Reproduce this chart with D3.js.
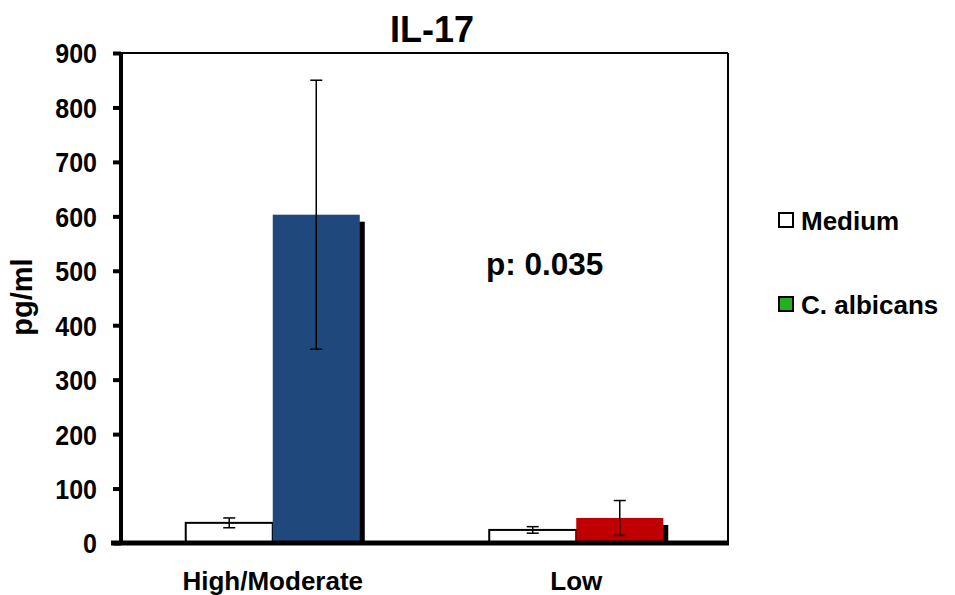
<!DOCTYPE html>
<html>
<head>
<meta charset="utf-8">
<script src="https://cdn.jsdelivr.net/npm/d3@7"></script>
<style>
  body { margin: 0; background: #fff; }
  text { font-family: "Liberation Sans", Arial, sans-serif; font-weight: bold; fill: #000; }
</style>
</head>
<body>
<div id="chart"></div>
<script>
// datos
var categories = ["High/Moderate", "Low"];
var series = ["Medium", "C. albicans"];
var medium = [37, 24];
var mediumErr = [9, 6];
var albicans = [603, 46];
var albicansErr = [247, 32];
var barColors = ["#1F497D", "#C00000"];   // color de C. albicans por categoria
var legendColors = ["#ffffff", "#22B022"];
var yTicks = [0, 100, 200, 300, 400, 500, 600, 700, 800, 900];

var margin = {top: 53, right: 227, bottom: 52, left: 121},
    width = 955 - margin.left - margin.right,
    height = 595 - margin.top - margin.bottom;

var svg = d3.select("#chart").append("svg")
    .attr("width", 955)
    .attr("height", 595);

var g = svg.append("g")
    .attr("transform", "translate(" + margin.left + "," + margin.top + ")");

var x = d3.scaleBand().domain(categories).range([0, width]).padding(0);
var xs = d3.scaleBand().domain(series).range([0, x.bandwidth()]).paddingInner(0).paddingOuter(0.744);
var y = d3.scaleLinear().domain([0, 900]).range([height, 0]);

// filas para las barras
var rows = [];
categories.forEach(function(c, i) {
  rows.push({cat: c, s: "Medium", v: medium[i], e: mediumErr[i], fill: "#ffffff"});
  rows.push({cat: c, s: "C. albicans", v: albicans[i], e: albicansErr[i], fill: barColors[i]});
});

// marco superior y derecho
g.append("line").attr("x1", 0).attr("x2", width).attr("y1", 0).attr("y2", 0)
  .attr("stroke", "#000").attr("stroke-width", 2);
g.append("line").attr("x1", width).attr("x2", width).attr("y1", 0).attr("y2", height)
  .attr("stroke", "#000").attr("stroke-width", 2);

// sombras
g.selectAll(".shadow").data(rows.filter(function(d) { return d.s != "Medium"; }))
  .enter().append("rect")
  .attr("x", function(d) { return x(d.cat) + xs(d.s) + 5; })
  .attr("y", function(d) { return y(d.v) + 7; })
  .attr("width", xs.bandwidth())
  .attr("height", function(d) { return height - y(d.v) - 7; })
  .attr("fill", "#000");

// barras
g.selectAll(".bar").data(rows).enter().append("rect")
  .attr("x", function(d) { return x(d.cat) + xs(d.s); })
  .attr("y", function(d) { return y(d.v); })
  .attr("width", xs.bandwidth())
  .attr("height", function(d) { return height - y(d.v); })
  .attr("fill", function(d) { return d.fill; })
  .attr("stroke", function(d) { return d.s == "Medium" ? "#000" : "none"; })
  .attr("stroke-width", 2);

// barras de error
var eb = g.selectAll(".err").data(rows).enter().append("g")
  .attr("transform", function(d) { return "translate(" + (x(d.cat) + xs(d.s) + xs.bandwidth() / 2) + ",0)"; });
eb.append("line")
  .attr("y1", function(d) { return y(d.v + d.e); })
  .attr("y2", function(d) { return y(d.v - d.e); })
  .attr("stroke", "#000").attr("stroke-width", 1.5);
eb.append("line").attr("x1", -6).attr("x2", 6)
  .attr("y1", function(d) { return y(d.v + d.e); })
  .attr("y2", function(d) { return y(d.v + d.e); })
  .attr("stroke", "#000").attr("stroke-width", 1.5);
eb.append("line").attr("x1", -6).attr("x2", 6)
  .attr("y1", function(d) { return y(d.v - d.e); })
  .attr("y2", function(d) { return y(d.v - d.e); })
  .attr("stroke", "#000").attr("stroke-width", 1.5);

// eje y
var yAxis = g.append("g")
  .call(d3.axisLeft(y).tickValues(yTicks).tickSize(8).tickPadding(16));
yAxis.select(".domain").attr("stroke-width", 4).attr("d", "M0," + (height + 2) + "V-1");
yAxis.selectAll(".tick line").attr("stroke-width", 4);
yAxis.selectAll("text")
  .style("font-size", "25px")
  .style("font-family", '"Liberation Sans", Arial, sans-serif')
  .style("font-weight", "bold")
  .attr("transform", "scale(1,1.1)")
  .attr("dy", "0.36em");

// eje x
var xAxis = g.append("g")
  .attr("transform", "translate(0," + height + ")")
  .call(d3.axisBottom(x).tickSize(0).tickPadding(29));
xAxis.select(".domain").attr("stroke-width", 5).attr("d", "M-10,0H" + (width + 1));
xAxis.selectAll("text")
  .style("font-size", "26px")
  .style("font-family", '"Liberation Sans", Arial, sans-serif')
  .style("font-weight", "bold");

// titulo
svg.append("text")
  .attr("x", 432).attr("y", 42)
  .attr("text-anchor", "middle")
  .style("font-size", "36px")
  .text("IL-17");

// etiqueta eje y
svg.append("text")
  .attr("transform", "translate(32,297) rotate(-90)")
  .attr("text-anchor", "middle")
  .style("font-size", "29px")
  .text("pg/ml");

// p valor
svg.append("text")
  .attr("x", 486).attr("y", 275)
  .style("font-size", "31.5px")
  .text("p: 0.035");

// leyenda
var legend = svg.selectAll(".legend").data(series).enter().append("g")
  .attr("transform", function(d, i) { return "translate(779," + (213 + i * 84) + ")"; });
legend.append("rect")
  .attr("width", 14).attr("height", 14)
  .attr("fill", function(d, i) { return legendColors[i]; })
  .attr("stroke", "#000").attr("stroke-width", 2);
legend.append("text")
  .attr("x", 22).attr("y", 17)
  .style("font-size", "26px")
  .text(function(d) { return d; });
</script>
</body>
</html>
